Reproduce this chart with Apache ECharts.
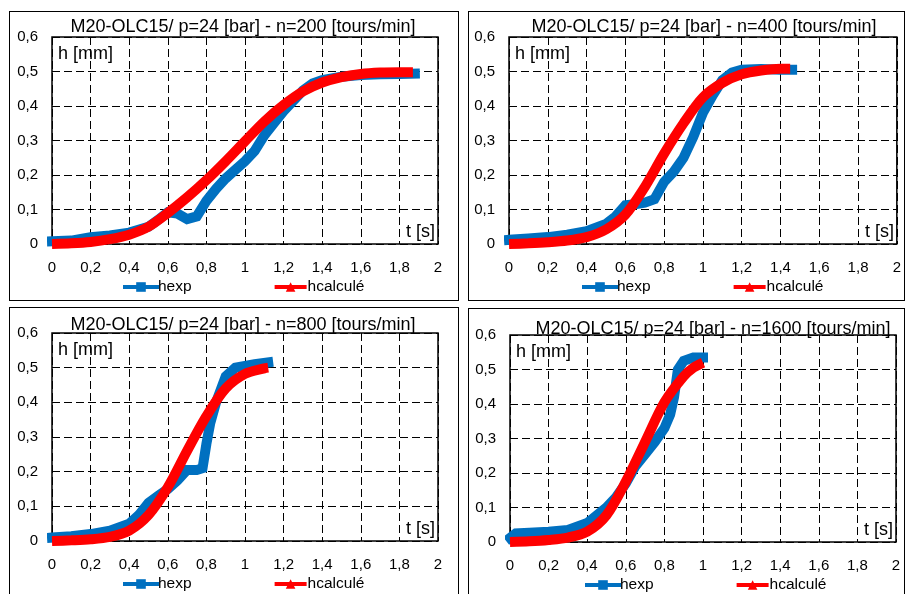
<!DOCTYPE html>
<html><head><meta charset="utf-8">
<script src="https://cdn.jsdelivr.net/npm/echarts@6/dist/echarts.min.js"></script>
<style>
html,body{margin:0;padding:0;background:#fff;width:905px;height:594px;overflow:hidden;position:relative;}
.panel{position:absolute;border:1px solid #000;box-sizing:border-box;background:#fff;}
.panel div.c{position:absolute;left:0;top:0;right:0;bottom:0;}
</style>
</head><body>
<div class="panel" id="p1" style="left:9px;top:11px;width:450px;height:290px"><div class="c" id="c1"></div></div>
<div class="panel" id="p2" style="left:468px;top:11px;width:437px;height:290px"><div class="c" id="c2"></div></div>
<div class="panel" id="p3" style="left:9px;top:307px;width:450px;height:290px"><div class="c" id="c3"></div></div>
<div class="panel" id="p4" style="left:468px;top:308px;width:437px;height:290px"><div class="c" id="c4"></div></div>
<script>
// ---- data ----
const titles = [
  "M20-OLC15/ p=24 [bar] - n=200 [tours/min]",
  "M20-OLC15/ p=24 [bar] - n=400 [tours/min]",
  "M20-OLC15/ p=24 [bar] - n=800 [tours/min]",
  "M20-OLC15/ p=24 [bar] - n=1600 [tours/min]"
];
const seriesNames = ["hexp", "hcalculé"];
const yName = "h [mm]";
const xName = "t [s]";
const xTicks = [0, 0.2, 0.4, 0.6, 0.8, 1, 1.2, 1.4, 1.6, 1.8, 2];
const yTicks = [0, 0.1, 0.2, 0.3, 0.4, 0.5, 0.6];

// n=200
const t200Exp = [0,0.1,0.15,0.2,0.3,0.4,0.5,0.55,0.6,0.65,0.7,0.75,0.8,0.85,0.9,0.95,1.0,1.05,1.1,1.15,1.2,1.25,1.3,1.35,1.4,1.5,1.6,1.7,1.8,1.88];
const h200Exp = [0.008,0.01,0.015,0.02,0.025,0.033,0.05,0.07,0.092,0.088,0.072,0.08,0.125,0.16,0.19,0.215,0.24,0.27,0.315,0.35,0.385,0.415,0.445,0.465,0.475,0.485,0.49,0.492,0.493,0.494];
const t200Calc = [0,0.1,0.2,0.3,0.4,0.5,0.6,0.7,0.8,0.9,1.0,1.1,1.2,1.3,1.4,1.5,1.6,1.7,1.8,1.87];
const h200Calc = [0,0.002,0.006,0.014,0.027,0.05,0.09,0.135,0.185,0.24,0.298,0.355,0.403,0.442,0.468,0.484,0.493,0.497,0.498,0.498];
// n=400
const t400Exp = [0,0.1,0.2,0.3,0.4,0.5,0.55,0.6,0.65,0.7,0.75,0.8,0.85,0.9,0.95,1.0,1.05,1.1,1.15,1.2,1.3,1.4,1.46];
const h400Exp = [0.012,0.016,0.02,0.027,0.037,0.058,0.08,0.112,0.115,0.12,0.13,0.18,0.21,0.25,0.31,0.38,0.43,0.475,0.497,0.505,0.507,0.505,0.505];
const t400Calc = [0,0.1,0.2,0.3,0.4,0.5,0.6,0.7,0.8,0.9,1.0,1.1,1.2,1.3,1.4,1.45];
const h400Calc = [0,0.002,0.005,0.01,0.02,0.042,0.085,0.165,0.262,0.35,0.425,0.467,0.492,0.503,0.508,0.508];
// n=800
const t800Exp = [0,0.1,0.2,0.3,0.4,0.45,0.5,0.55,0.6,0.65,0.7,0.75,0.78,0.8,0.82,0.85,0.9,0.95,1.0,1.05,1.12];
const h800Exp = [0.01,0.014,0.02,0.03,0.05,0.075,0.11,0.13,0.15,0.175,0.205,0.205,0.21,0.28,0.34,0.4,0.475,0.5,0.505,0.51,0.515];
const t800Calc = [0,0.1,0.2,0.3,0.4,0.5,0.6,0.7,0.8,0.9,1.0,1.1,1.12];
const h800Calc = [0,0.002,0.005,0.012,0.03,0.075,0.155,0.26,0.36,0.44,0.482,0.498,0.5];
// n=1600
const t1600Exp = [0,0.03,0.1,0.2,0.3,0.4,0.5,0.55,0.6,0.65,0.7,0.75,0.8,0.83,0.85,0.87,0.9,0.95,1.0];
const h1600Exp = [0.012,0.025,0.027,0.03,0.035,0.055,0.1,0.13,0.17,0.22,0.255,0.29,0.33,0.37,0.42,0.5,0.525,0.535,0.535];
const t1600Calc = [0,0.1,0.2,0.3,0.4,0.5,0.6,0.7,0.8,0.9,0.95,1.0];
const h1600Calc = [0,0.002,0.006,0.013,0.03,0.078,0.175,0.29,0.405,0.48,0.505,0.52];

// ---- layout ----
const panels = [
  {id:'c1', exp:[t200Exp,h200Exp], calc:[t200Calc,h200Calc], grid:{left:42,top:25,width:386,height:207}, tx:228, ty:1, lg:{left:113,top:267}},
  {id:'c2', exp:[t400Exp,h400Exp], calc:[t400Calc,h400Calc], grid:{left:40,top:25,width:388,height:207}, tx:230, ty:1, lg:{left:113,top:267}},
  {id:'c3', exp:[t800Exp,h800Exp], calc:[t800Calc,h800Calc], grid:{left:42,top:25,width:386,height:208}, tx:228, ty:3, lg:{left:113,top:268}},
  {id:'c4', exp:[t1600Exp,h1600Exp], calc:[t1600Calc,h1600Calc], grid:{left:41,top:26,width:386,height:207}, tx:239, ty:6, lg:{left:116,top:268}}
];
const FONT = '"Liberation Sans", Arial, sans-serif';
const fmt = v => String(Math.round(v*10)/10).replace('.', ',');
const zip = (a,b) => a.map((x,i)=>[x,b[i]]);

panels.forEach((p, i) => {
  const chart = echarts.init(document.getElementById(p.id), null, {renderer:'canvas'});
  const g = p.grid;
  chart.setOption({
    animation:false,
    title:{text:titles[i], left:p.tx, top:p.ty, textAlign:'center',
      textStyle:{fontFamily:FONT, fontSize:18, fontWeight:'normal', color:'#000'}},
    legend:{data:seriesNames, left:p.lg.left, top:p.lg.top, padding:0, itemGap:81, itemWidth:32, itemHeight:12,
      textStyle:{fontFamily:FONT, fontSize:15.5, color:'#000', padding:[0,0,0,-4]}, lineStyle:{width:4}},
    grid:{left:g.left, top:g.top, width:g.width, height:g.height, show:true, borderColor:'#000', borderWidth:1.5, backgroundColor:'transparent'},
    xAxis:{type:'value', min:xTicks[0], max:xTicks[xTicks.length-1], interval:0.2,
      axisLine:{show:false}, axisTick:{show:false},
      axisLabel:{formatter:fmt, fontFamily:FONT, fontSize:15, color:'#000', margin:16},
      splitLine:{show:true, lineStyle:{color:'#000', width:1, type:[8,4]}}},
    yAxis:{type:'value', min:yTicks[0], max:yTicks[yTicks.length-1], interval:0.1,
      axisLine:{show:false}, axisTick:{show:false},
      axisLabel:{formatter:fmt, fontFamily:FONT, fontSize:15, color:'#000', margin:14},
      splitLine:{show:true, lineStyle:{color:'#000', width:1, type:[8,4]}}},
    graphic:[
      {type:'text', x:g.left+6, y:g.top+17, style:{text:yName, font:'18px '+FONT, fill:'#000', verticalAlign:'middle'}, z:10},
      {type:'text', x:g.left+g.width-3, y:g.top+g.height-12, style:{text:xName, font:'18px '+FONT, fill:'#000', align:'right', verticalAlign:'middle'}, z:10}
    ],
    series:[
      {name:seriesNames[0], type:'line', data:zip(p.exp[0],p.exp[1]), symbol:'rect', symbolSize:9, showSymbol:false,
        lineStyle:{color:'#0070C0', width:10, cap:'square', join:'miter'}, itemStyle:{color:'#0070C0'}, z:2},
      {name:seriesNames[1], type:'line', data:zip(p.calc[0],p.calc[1]), symbol:'triangle', symbolSize:10, showSymbol:false, smooth:0.3,
        lineStyle:{color:'#FF0000', width:10, cap:'butt'}, itemStyle:{color:'#FF0000'}, z:3}
    ]
  });
});
</script>
</body></html>
